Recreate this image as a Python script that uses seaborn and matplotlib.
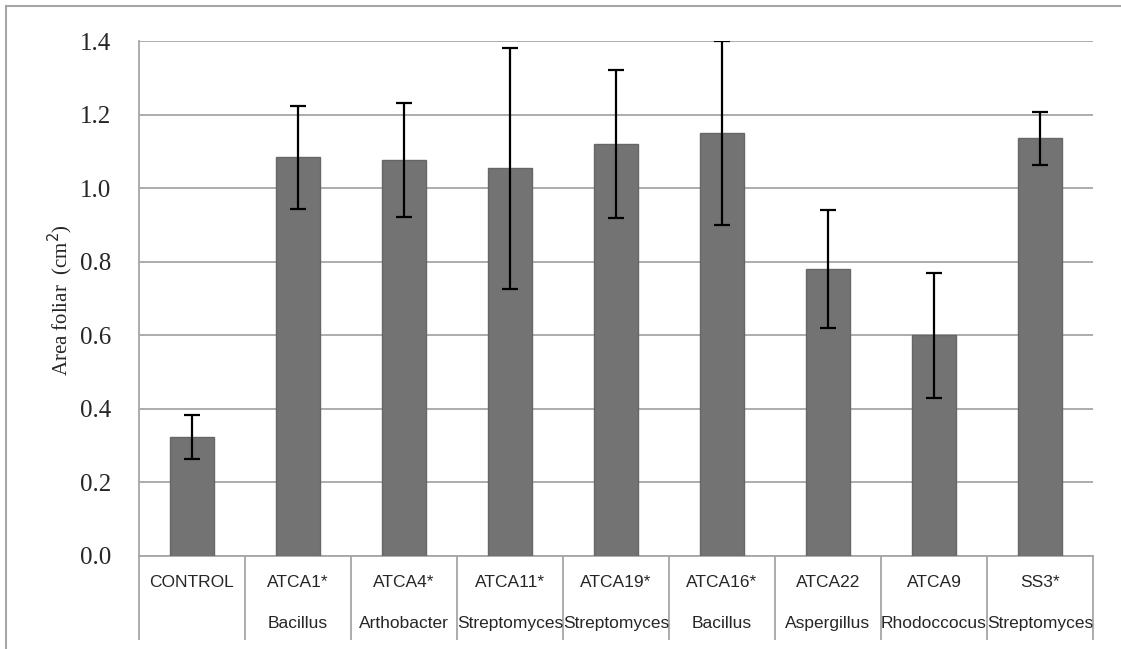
import matplotlib
matplotlib.use("Agg")
import matplotlib.pyplot as plt
import matplotlib.patches as mpatches
import pandas as pd
import seaborn as sns

# Leaf area per isolate
codes = ["CONTROL", "ATCA1*", "ATCA4*", "ATCA11*", "ATCA19*",
         "ATCA16*", "ATCA22", "ATCA9", "SS3*"]
genus = ["", "Bacillus", "Arthobacter", "Streptomyces", "Streptomyces",
         "Bacillus", "Aspergillus", "Rhodoccocus", "Streptomyces"]
area = [0.324, 1.084, 1.076, 1.054, 1.120, 1.151, 0.780, 0.600, 1.135]
err = [0.060, 0.140, 0.155, 0.328, 0.200, 0.250, 0.160, 0.170, 0.071]
yticks = [0.0, 0.2, 0.4, 0.6, 0.8, 1.0, 1.2, 1.4]

GRID = "#a6a6a6"

df = pd.DataFrame({"code": codes, "area": area})

sns.set_style("white")
fig = plt.figure(figsize=(11.21, 6.49), dpi=100)
ax = fig.add_axes([139 / 1121, 1 - 556 / 649, (1093 - 139) / 1121, (556 - 41) / 649])

sns.barplot(data=df, x="code", y="area", color="#737373", saturation=1,
            width=0.41, edgecolor="#666666", linewidth=1, ax=ax, zorder=3)

# error bars centred on the seaborn bars
centers = [p.get_x() + p.get_width() / 2 for p in ax.patches]
ax.errorbar(centers, area, yerr=err, fmt="none", ecolor="black",
            elinewidth=1.6, capsize=5.5, capthick=1.6, zorder=4)

ax.set_xlim(-0.5, len(codes) - 0.5)
ax.set_ylim(0, 1.4)
ax.set_yticks(yticks)
ax.set_yticklabels([f"{v:.1f}" for v in yticks], family="Liberation Serif",
                   fontsize=18)
ax.tick_params(axis="y", length=0, pad=20)
ax.tick_params(axis="x", length=0)
ax.set_xticks(range(len(codes)))
ax.set_xticklabels([])
ax.set_xlabel("")
ax.set_ylabel("")

ax.yaxis.grid(True, color=GRID, linewidth=1.3, zorder=0)
ax.set_axisbelow(True)
for side in ["top", "right"]:
    ax.spines[side].set_visible(False)
for side in ["left", "bottom"]:
    ax.spines[side].set_color(GRID)
    ax.spines[side].set_linewidth(1.3)

# two-row category labels with separators, like the Excel table axis
xt = ax.get_xaxis_transform()
for i, (c, g) in enumerate(zip(codes, genus)):
    ax.text(i, -0.052, c, transform=xt, ha="center", va="center",
            family="Liberation Sans", fontsize=12.5)
    ax.text(i, -0.132, g, transform=xt, ha="center", va="center",
            family="Liberation Sans", fontsize=12.5)
ax.vlines([i - 0.5 for i in range(len(codes) + 1)], -0.163, 0,
          transform=xt, colors=GRID, linewidth=1.3, clip_on=False)

fig.text(60 / 1121, 1 - 300 / 649, "Area foliar  (cm$^2$)", rotation=90,
         ha="center", va="center", family="Liberation Serif", fontsize=15)

# chart-area frame (cut off at the right and bottom in the original)
fig.patches.append(mpatches.Rectangle((6 / 1121, -0.5), 2, 0.5 + 1 - 6 / 649,
                                      transform=fig.transFigure, fill=False,
                                      edgecolor=GRID, linewidth=1.5))

fig.savefig("out.png", dpi=100)
